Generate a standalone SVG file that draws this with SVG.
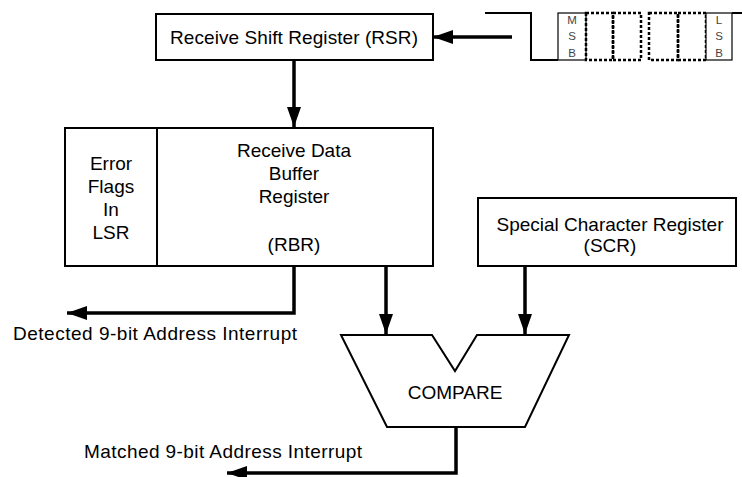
<svg xmlns="http://www.w3.org/2000/svg" width="742" height="477" viewBox="0 0 742 477">
<style>
.box{fill:#fff;stroke:#000;stroke-width:2}
.t{font-family:"Liberation Sans",Arial,sans-serif;font-size:19px;fill:#000;text-anchor:middle}
.s{font-family:"Liberation Sans",Arial,sans-serif;font-size:11.5px;fill:#444;text-anchor:middle}
.w{fill:none;stroke:#000;stroke-width:2}
.thin{fill:#fff;stroke:#000;stroke-width:1.2}
.dot{fill:none;stroke:#000;stroke-width:2.5;stroke-dasharray:3 2}
.c{fill:none;stroke:#000;stroke-width:3.5}
</style>
<defs>
<marker id="ah" viewBox="0 0 20 14" refX="20" refY="7" markerWidth="20" markerHeight="14" markerUnits="userSpaceOnUse" orient="auto">
<path d="M0,0 L20,7 L0,14 Z" fill="#000"/>
</marker>
</defs>
<rect width="742" height="477" fill="#fff"/>
<g id="waveform">
<path class="w" d="M485,13 H531 V60 H558"/>
<path class="w" d="M732,13 H742"/>
<rect class="thin" x="558" y="13" width="28" height="47"/>
<text class="s" x="572" y="24">M</text>
<text class="s" x="572" y="40">S</text>
<text class="s" x="572" y="57">B</text>
<rect class="dot" x="586" y="13" width="27" height="47"/>
<rect class="dot" x="613" y="13" width="28" height="47"/>
<rect class="dot" x="649" y="13" width="29" height="47"/>
<rect class="dot" x="678" y="13" width="28" height="47"/>
<rect class="thin" x="706" y="13" width="26" height="47"/>
<text class="s" x="719" y="24">L</text>
<text class="s" x="719" y="40">S</text>
<text class="s" x="719" y="57">B</text>
</g>
<g id="rsr">
<rect class="box" x="156" y="14" width="277" height="46"/>
<text class="t" x="294" y="44" textLength="248" lengthAdjust="spacing">Receive Shift Register (RSR)</text>
</g>
<g id="rbr">
<rect class="box" x="65" y="128" width="368" height="138"/>
<line x1="157" y1="128" x2="157" y2="266" stroke="#000" stroke-width="2"/>
<text class="t" x="111" y="170">Error</text>
<text class="t" x="111" y="193">Flags</text>
<text class="t" x="111" y="216">In</text>
<text class="t" x="111" y="239">LSR</text>
<text class="t" x="294" y="157">Receive Data</text>
<text class="t" x="294" y="180">Buffer</text>
<text class="t" x="294" y="203">Register</text>
<text class="t" x="294" y="251">(RBR)</text>
</g>
<g id="scr">
<rect class="box" x="478" y="198" width="258" height="68"/>
<text class="t" x="610" y="231">Special Character Register</text>
<text class="t" x="610" y="252">(SCR)</text>
</g>
<g id="compare">
<path class="box" d="M341,335 H432 L455,371 L477,335 H569 L525,427 H387 Z"/>
<text class="t" x="455" y="399">COMPARE</text>
</g>
<g id="connectors">
<path class="c" d="M512,37 H433" marker-end="url(#ah)"/>
<path class="c" d="M294,60 V127" marker-end="url(#ah)"/>
<path class="c" d="M294,266 V313 H67" marker-end="url(#ah)"/>
<path class="c" d="M386,266 V334" marker-end="url(#ah)"/>
<path class="c" d="M525,266 V334" marker-end="url(#ah)"/>
<path class="c" d="M456,427 V473 H227" marker-end="url(#ah)"/>
</g>
<g id="labels">
<text class="t" x="155" y="340" textLength="284" lengthAdjust="spacing">Detected 9-bit Address Interrupt</text>
<text class="t" x="223" y="458" textLength="278" lengthAdjust="spacing">Matched 9-bit Address Interrupt</text>
</g>
</svg>
